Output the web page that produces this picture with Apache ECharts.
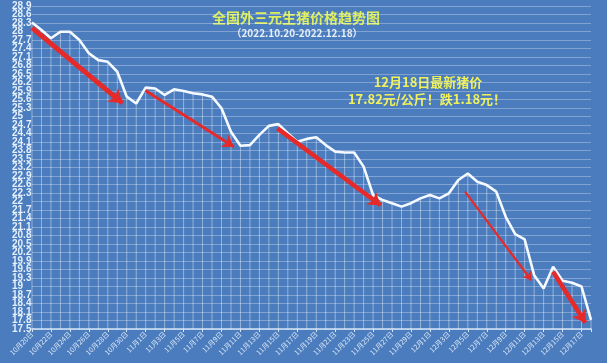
<!DOCTYPE html>
<html><head><meta charset="utf-8">
<script src="https://cdn.jsdelivr.net/npm/echarts@6/dist/echarts.min.js"></script>
<style>html,body{margin:0;padding:0;background:#4a7cbe;}#c{width:607px;height:363px;}</style>
</head><body><div id="c"></div>
<script>
const dates = ['10月20日','10月21日','10月22日','10月23日','10月24日','10月25日','10月26日','10月27日','10月28日','10月29日','10月30日','10月31日',
'11月1日','11月2日','11月3日','11月4日','11月5日','11月6日','11月7日','11月8日','11月9日','11月10日','11月11日','11月12日','11月13日','11月14日','11月15日','11月16日','11月17日','11月18日','11月19日','11月20日','11月21日','11月22日','11月23日','11月24日','11月25日','11月26日','11月27日','11月28日','11月29日','11月30日',
'12月1日','12月2日','12月3日','12月4日','12月5日','12月6日','12月7日','12月8日','12月9日','12月10日','12月11日','12月12日','12月13日','12月14日','12月15日','12月16日','12月17日','12月18日'];
const prices = [28.32,28.05,27.76,27.99,27.99,27.70,27.23,26.99,26.93,26.58,
25.70,25.46,26.02,25.99,25.76,25.96,25.90,25.82,25.78,25.70,
25.29,24.46,23.97,23.99,24.35,24.67,24.73,24.41,24.11,24.21,
24.27,23.99,23.76,23.73,23.73,23.23,22.23,22.05,21.94,21.82,
21.94,22.11,22.23,22.11,22.29,22.76,22.99,22.70,22.58,22.35,
21.46,20.85,20.66,19.40,18.93,19.70,19.20,19.13,19.00,17.82];
const labeledIndex = 34;
const yMin = 17.5, yMax = 28.9, yStep = 0.3;
// labels next to the extremes, drawn by a twin axis so they are not auto-hidden
const nearExtremeLabels = ['17.8', '28.6'];
// arrows: [startIndex, startValue, endIndex, endValue]
const arrows = [
  [0, 28.13, 9.55, 25.47],
  [11.96, 25.92, 21.3, 23.93],
  [25.9, 24.58, 36.8, 21.87],
  [45.7, 22.35, 52.7, 19.22],
  [55.0, 19.52, 58.4, 17.72]
];
const arrowWidths = [5, 3, 4.5, 2.2, 4.5];
const arrowHeads = [13, 11, 12, 8, 12];

const fmt = v => String(+v.toFixed(1));
const yLabelStyle = {fontSize:10, fontWeight:'bold', color:'#e4f0fc', fontFamily:'Liberation Sans', align:'left', margin:20};

const chart = echarts.init(document.getElementById('c'));
const lineData = prices.map((v,i)=> i===labeledIndex ? {value:[i,v], label:{show:true, position:'right', distance:6, formatter:String(v), color:'#eef4fb', fontSize:7, fontWeight:'bold', fontFamily:'Liberation Sans'}} : [i,v]);
const barData = prices.map((v,i)=>[i,v]);
chart.setOption({
  backgroundColor:'#4a7cbe',
  animation:false,
  grid:{left:32, right:16, top:6, bottom:34},
  xAxis:{type:'value', min:0, max:59, interval:2,
    axisLine:{show:true, lineStyle:{color:'#d5e3f5', width:1.5}},
    axisTick:{show:true, length:3, lineStyle:{color:'#d5e3f5'}},
    splitLine:{show:false},
    axisLabel:{rotate:45, fontSize:7, color:'#dde8f6', fontFamily:'Noto Sans CJK SC', margin:4, hideOverlap:false,
      formatter:v=> (v%2===0 && dates[v]) ? dates[v] : ''}
  },
  yAxis:[
    {type:'value', min:yMin, max:yMax, interval:yStep, position:'left',
      axisLine:{show:false}, axisTick:{show:false},
      splitLine:{show:true, lineStyle:{color:'rgba(255,255,255,0.3)', width:1}},
      axisLabel:Object.assign({showMinLabel:true, showMaxLabel:true, hideOverlap:false, formatter:fmt}, yLabelStyle)
    },
    {type:'value', min:yMin, max:yMax, interval:yStep, position:'left', offset:0,
      axisLine:{show:false}, axisTick:{show:false}, splitLine:{show:false},
      axisLabel:Object.assign({showMinLabel:false, showMaxLabel:false, hideOverlap:false,
        formatter:v=> nearExtremeLabels.indexOf(fmt(v))>=0 ? fmt(v) : ''}, yLabelStyle)
    }
  ],
  graphic:[
    {type:'text', x:296, y:18, style:{text:'全国外三元生猪价格趋势图', font:'bold 14px "Noto Sans CJK SC"', fill:'#dcee5c', textAlign:'center', textVerticalAlign:'middle'}},
    {type:'text', x:297, y:33, style:{text:'（2022.10.20-2022.12.18）', font:'bold 10px "Noto Sans CJK SC"', fill:'#e6eef8', textAlign:'center', textVerticalAlign:'middle'}},
    {type:'text', x:428, y:82, style:{text:'12月18日最新猪价', font:'bold 13px "Noto Sans CJK SC"', fill:'#eef05a', textAlign:'center', textVerticalAlign:'middle'}},
    {type:'text', x:427, y:99, style:{text:'17.82元/公斤！跌1.18元！', font:'bold 13px "Noto Sans CJK SC"', fill:'#eef05a', textAlign:'center', textVerticalAlign:'middle'}}
  ],
  series:[
    {type:'bar', data:barData, barWidth:1, silent:true, itemStyle:{color:'rgba(255,255,255,0.42)'}, z:1},
    {type:'line', data:lineData, symbol:'none', silent:true, z:3,
      lineStyle:{color:'#f4faff', width:2.6},
      markLine:{silent:true, symbol:['none','arrow'], label:{show:false}, z:4,
        data: arrows.map((a,k)=>[
          {coord:[a[0],a[1]], lineStyle:{color:'#e62a2a', width:arrowWidths[k], type:'solid'}, symbolSize:arrowHeads[k]},
          {coord:[a[2],a[3]], symbolSize:arrowHeads[k]}
        ])
      }
    }
  ]
});
</script></body></html>
